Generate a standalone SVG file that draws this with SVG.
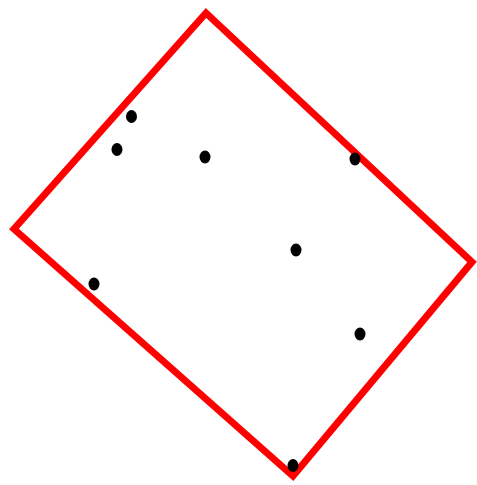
<svg xmlns="http://www.w3.org/2000/svg" width="477" height="485" viewBox="0 0 477 485">
<style>
.box{fill:none;stroke:#ff0000;stroke-width:7;stroke-linejoin:miter}
.pt{fill:#000000}
</style>
<rect width="477" height="485" fill="#ffffff"/>
<g id="rect"><polygon class="box" points="206,13 472,262 293,476 14,229"/></g>
<g id="points">
<ellipse class="pt" cx="131.5" cy="116.5" rx="5.5" ry="6.5"/>
<ellipse class="pt" cx="117" cy="149.5" rx="5.5" ry="6.5"/>
<ellipse class="pt" cx="205" cy="157" rx="5.5" ry="6.5"/>
<ellipse class="pt" cx="355" cy="159" rx="5.5" ry="6.5"/>
<ellipse class="pt" cx="296" cy="250" rx="5.5" ry="6.5"/>
<ellipse class="pt" cx="94" cy="284" rx="5.5" ry="6.5"/>
<ellipse class="pt" cx="360" cy="334" rx="5.5" ry="6.5"/>
<ellipse class="pt" cx="293" cy="465.5" rx="5.5" ry="6.5"/>
</g>
</svg>
